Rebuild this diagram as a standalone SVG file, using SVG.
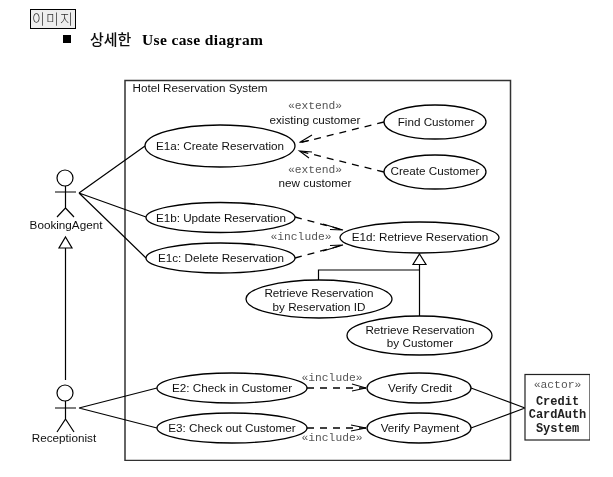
<svg xmlns="http://www.w3.org/2000/svg" width="613" height="477" viewBox="0 0 613 477">
<style>
.n{fill:#fff;stroke:#000;stroke-width:1.3}
.t{font-family:"Liberation Sans",Arial,sans-serif;font-size:11.7px;fill:#111;text-anchor:middle}
.s{font-family:"Liberation Mono","Courier New",monospace;font-size:11.300px;fill:#555;text-anchor:middle}
.c{font-family:"Liberation Mono","Courier New",monospace;font-size:12px;font-weight:bold;fill:#222;text-anchor:middle}
.l{fill:none;stroke:#000;stroke-width:1.200}
.d{fill:none;stroke:#000;stroke-width:1.300;stroke-dasharray:7 6}
.h{fill:none;stroke:#000;stroke-width:1.100}
.a{fill:none;stroke:#000;stroke-width:1.200}
.tri{fill:#fff;stroke:#000;stroke-width:1.200}
</style>
<defs><filter id="soft" x="0" y="0" width="100%" height="100%"><feGaussianBlur stdDeviation="0.35"/></filter></defs>
<rect width="613" height="477" fill="#fff"/>
<g filter="url(#soft)">
<g id="header">
<rect x="30.500" y="9.500" width="45" height="19" fill="#eee" stroke="#000"/>
<text x="32" y="24" font-family="'Noto Sans CJK KR',sans-serif" font-size="14" font-weight="300" fill="#333" textLength="41">이미지</text>
<rect x="63" y="35" width="8" height="8" fill="#000"/>
<text x="90" y="44.500" font-family="'Noto Sans CJK KR',sans-serif" font-size="15" font-weight="500" fill="#111">상세한</text>
<text x="142" y="44.500" font-family="'Liberation Serif',serif" font-size="15.500" font-weight="bold" fill="#000" textLength="121">Use case diagram</text>
</g>
<g id="system">
<rect x="125" y="80.500" width="385.500" height="380" fill="#fff" stroke="#333" stroke-width="1.500"/>
<text x="132.500" y="92" font-family="'Liberation Sans',sans-serif" font-size="11.700" fill="#111">Hotel Reservation System</text>
</g>
<g id="connectors">
<path class="l" d="M79 193L145 146M79 193L146 217M79 193L146 258M79 408L157 388M79 408L157 428M471 388L525 408M471 428L525 408"/>
<path class="l" d="M65.500 248V380M318.500 280V270H419.500M419.500 264V316"/>
<path class="tri" d="M65.500 237L72 248H59Z"/>
<path class="tri" d="M419.500 254L426 264.500H413Z"/>
<path class="d" d="M384 122L299 143M384 172L299 151M295 217L343 230M295 258L343 245M307 388L366 388M307 428L366 428"/>
<path class="h" d="M312 135L299.500 142.500L309 140.500M312 152L299.500 151L309 158"/>
<path class="h" d="M323 224L343 230L330 229.500M323 251L343 245L330 245.500"/>
<path class="h" d="M352 384L366 388L352 391"/>
<path class="h" d="M351 425L366 428L351 431"/>
</g>
<g id="labels">
<text class="s" x="315" y="109">«extend»</text>
<text class="t" x="315" y="124">existing customer</text>
<text class="s" x="315" y="173">«extend»</text>
<text class="t" x="315" y="187">new customer</text>
<text class="s" x="301" y="240">«include»</text>
<text class="s" x="332" y="381">«include»</text>
<text class="s" x="332" y="441">«include»</text>
</g>
<g id="BookingAgent">
<circle class="a" cx="65" cy="178" r="8"/>
<path class="a" d="M55 192H76M65.500 186V208L57 217M65.500 208L74 217"/>
<text class="t" x="66" y="229">BookingAgent</text>
</g>
<g id="Receptionist">
<circle class="a" cx="65" cy="393" r="8"/>
<path class="a" d="M55 408H76M65.500 401V419L57 432M65.500 419L74 432"/>
<text class="t" x="64" y="442">Receptionist</text>
</g>
<g id="E1a"><ellipse class="n" cx="220" cy="146" rx="75" ry="21"/><text class="t" x="220" y="150">E1a: Create Reservation</text></g>
<g id="FindCustomer"><ellipse class="n" cx="435" cy="122" rx="51" ry="17"/><text class="t" x="436" y="126">Find Customer</text></g>
<g id="CreateCustomer"><ellipse class="n" cx="435" cy="172" rx="51" ry="17"/><text class="t" x="435" y="175">Create Customer</text></g>
<g id="E1b"><ellipse class="n" cx="220.500" cy="217.500" rx="74.500" ry="15"/><text class="t" x="221" y="222" textLength="130">E1b: Update Reservation</text></g>
<g id="E1c"><ellipse class="n" cx="220.500" cy="258" rx="74.500" ry="15"/><text class="t" x="221" y="262">E1c: Delete Reservation</text></g>
<g id="E1d"><ellipse class="n" cx="419.500" cy="237.500" rx="79.500" ry="15.500"/><text class="t" x="420" y="241">E1d: Retrieve Reservation</text></g>
<g id="RetrieveById"><ellipse class="n" cx="319" cy="299" rx="73" ry="19"/><text class="t" x="319" y="297">Retrieve Reservation</text><text class="t" x="319" y="311">by Reservation ID</text></g>
<g id="RetrieveByCustomer"><ellipse class="n" cx="419.500" cy="335.500" rx="72.500" ry="19.500"/><text class="t" x="420" y="334">Retrieve Reservation</text><text class="t" x="420" y="347">by Customer</text></g>
<g id="E2"><ellipse class="n" cx="232" cy="388" rx="75" ry="15"/><text class="t" x="232" y="392">E2: Check in Customer</text></g>
<g id="E3"><ellipse class="n" cx="232" cy="428" rx="75" ry="15"/><text class="t" x="232" y="432">E3: Check out Customer</text></g>
<g id="VerifyCredit"><ellipse class="n" cx="419" cy="388" rx="52" ry="15"/><text class="t" x="420" y="392" textLength="64">Verify Credit</text></g>
<g id="VerifyPayment"><ellipse class="n" cx="419" cy="428" rx="52" ry="15"/><text class="t" x="420" y="432">Verify Payment</text></g>
<g id="CreditCardAuth">
<rect x="525" y="374.500" width="65" height="65.500" fill="#fff" stroke="#222" stroke-width="1.200"/>
<text class="s" x="557.500" y="388">«actor»</text>
<text class="c" x="557.500" y="405">Credit</text>
<text class="c" x="557.500" y="418">CardAuth</text>
<text class="c" x="557.500" y="432">System</text>
</g>
</g>
</svg>
